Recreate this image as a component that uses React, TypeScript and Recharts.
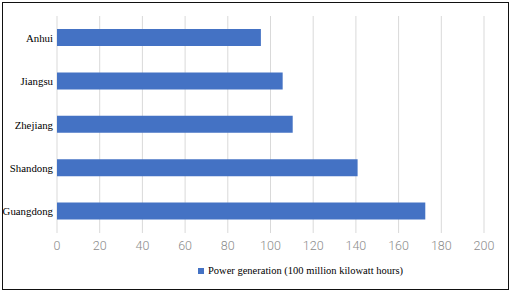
import { BarChart, Bar, XAxis, YAxis, CartesianGrid, Legend } from "recharts"

const provinces = ["Anhui", "Jiangsu", "Zhejiang", "Shandong", "Guangdong"]
const generation = [95.5, 105.7, 110.4, 140.8, 172.5]
const xTicks = [0, 20, 40, 60, 80, 100, 120, 140, 160, 180, 200]
const seriesName = "Power generation (100 million kilowatt hours)"

const serif = "'Liberation Serif', 'Times New Roman', serif"

const data = provinces.map((name, i) => ({ name, value: generation[i] }))

// category labels in serif, right-aligned against the plot
const ProvinceTick = (props: any) => {
  const { x, y, payload } = props
  return (
    <text x={x} y={y} dy={4} textAnchor="end" fill="#000" fontSize={10.8} style={{ fontFamily: serif }}>
      {payload.value}
    </text>
  )
}

const renderLegend = () => (
  <div style={{ display: "flex", justifyContent: "center", alignItems: "center", paddingLeft: 117, paddingTop: 7 }}>
    <span style={{ display: "inline-block", width: 6, height: 6, background: "#4472C4", marginRight: 4 }}></span>
    <span style={{ fontFamily: serif, fontSize: 10.5, color: "#000" }}>{seriesName}</span>
  </div>
)

export default function App() {
  return (
    <div style={{ position: "absolute", left: 0, top: 0, width: 512, height: 293, background: "#fff" }}>
      <div style={{ position: "absolute", left: 2, top: 2, width: 505, height: 286, border: "1.5px solid #111" }} />
      <BarChart
        width={512}
        height={293}
        data={data}
        layout="vertical"
        margin={{ top: 16, right: 28, bottom: 5, left: 0 }}
        barCategoryGap="30%"
      >
        <CartesianGrid horizontal={false} stroke="#d9d9d9" />
        <XAxis
          type="number"
          domain={[0, 200]}
          ticks={xTicks}
          height={25}
          tickSize={0}
          tickMargin={8}
          axisLine={false}
          tick={{ fill: "#8c8c8c", fontSize: 12.5, fontFamily: "Roboto", fontWeight: 300 }}
        />
        <YAxis
          type="category"
          dataKey="name"
          width={57}
          tickSize={0}
          tickMargin={4}
          axisLine={false}
          tick={<ProvinceTick />}
        />
        <Legend verticalAlign="bottom" height={30} content={renderLegend} />
        <Bar dataKey="value" name={seriesName} fill="#4472C4" isAnimationActive={false} />
      </BarChart>
    </div>
  )
}
